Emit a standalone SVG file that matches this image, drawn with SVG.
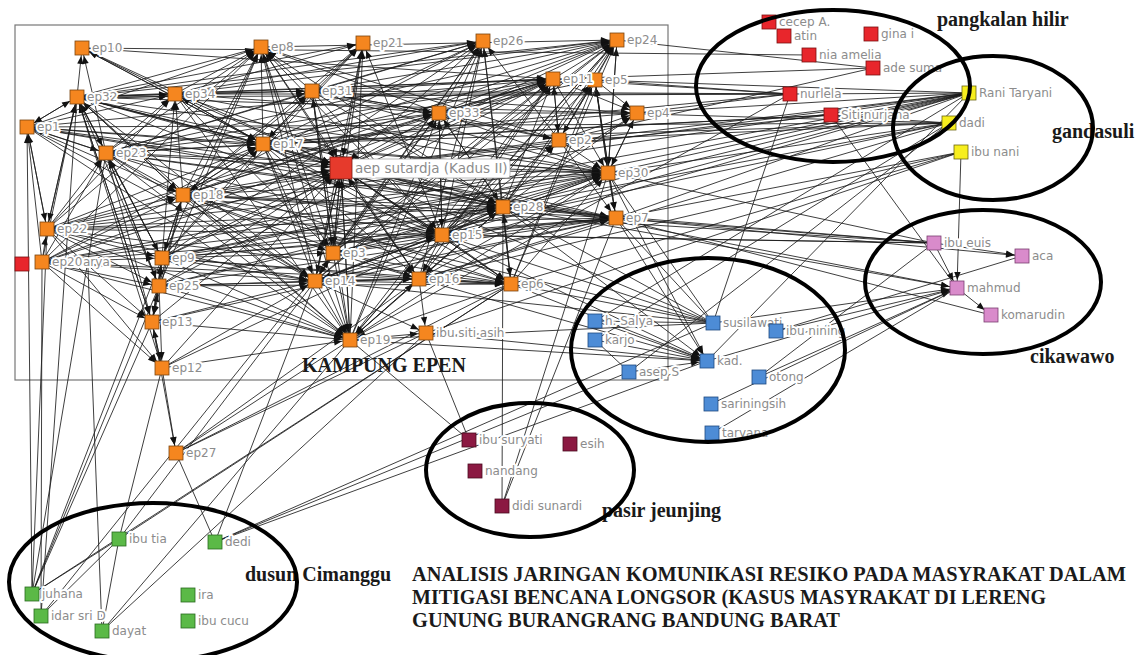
<svg xmlns="http://www.w3.org/2000/svg" width="1136" height="655" viewBox="0 0 1136 655">
<style>
.e path{fill:none;stroke:#1c1c1c;stroke-width:.85}
.ea{marker-end:url(#ma)}
.eb{marker-end:url(#mb)}
.l{font-family:"DejaVu Sans",sans-serif;font-size:12px;fill:#8c8c8c;stroke:#fff;stroke-width:4;stroke-linejoin:round;paint-order:stroke}
.o{fill:#f5861f;stroke:#7a4510;stroke-width:.8}
.r{fill:#e8262c;stroke:#7a1010;stroke-width:.8}
.y{fill:#f7ee1e;stroke:#6b6510;stroke-width:.8}
.p{fill:#d98bcb;stroke:#7a3f70;stroke-width:.8}
.b{fill:#4d8cd6;stroke:#1f4a80;stroke-width:.8}
.m{fill:#8b1942;stroke:#4a0a20;stroke-width:.8}
.g{fill:#5bb947;stroke:#2a6a20;stroke-width:.8}
.c{font-family:"Liberation Serif",serif;font-weight:bold;font-size:20px;fill:#1a1a1a}
.el{fill:none;stroke:#000;stroke-width:4}
</style>
<defs>
<marker id="ma" viewBox="0 0 20 10" refX="18" refY="5" markerWidth="20" markerHeight="10" markerUnits="userSpaceOnUse" orient="auto"><path d="M2 1.8L10 5L2 8.2z" fill="#111"/></marker>
<marker id="mb" viewBox="0 0 24 10" refX="22" refY="5" markerWidth="24" markerHeight="10" markerUnits="userSpaceOnUse" orient="auto"><path d="M2 1.8L10 5L2 8.2z" fill="#111"/></marker>
</defs>
<rect width="1136" height="655" fill="#fff"/>
<rect x="15" y="25" width="653" height="355" fill="none" stroke="#777" stroke-width="1.2"/>
<g id="connectors" class="e">
<g class="ea">
<path d="M77 97L261 47"/><path d="M175 94L261 47"/><path d="M106 153L261 47"/><path d="M263 144L261 47"/><path d="M183 195L261 47"/><path d="M27 127L261 47"/><path d="M162 258L261 47"/><path d="M333 253L261 47"/><path d="M315 281L261 47"/><path d="M350 340L261 47"/><path d="M312 91L261 47"/><path d="M442 235L261 47"/><path d="M503 207L261 47"/><path d="M47 229L261 47"/><path d="M42 262L261 47"/><path d="M159 286L261 47"/><path d="M419 279L261 47"/><path d="M439 113L261 47"/><path d="M559 140L261 47"/>
<path d="M175 94L483 41"/><path d="M312 91L483 41"/><path d="M263 144L483 41"/><path d="M439 113L483 41"/><path d="M333 253L483 41"/><path d="M315 281L483 41"/><path d="M442 235L483 41"/><path d="M503 207L483 41"/><path d="M350 340L483 41"/><path d="M183 195L483 41"/><path d="M419 279L483 41"/><path d="M511 284L483 41"/><path d="M77 97L483 41"/><path d="M559 140L483 41"/><path d="M162 258L483 41"/><path d="M106 153L483 41"/>
<path d="M553 79L617 40"/><path d="M439 113L617 40"/><path d="M312 91L617 40"/><path d="M263 144L617 40"/><path d="M442 235L617 40"/><path d="M503 207L617 40"/><path d="M559 140L617 40"/><path d="M315 281L617 40"/><path d="M175 94L617 40"/><path d="M333 253L617 40"/><path d="M419 279L617 40"/><path d="M350 340L617 40"/><path d="M511 284L617 40"/><path d="M77 97L617 40"/><path d="M106 153L617 40"/><path d="M608 173L617 40"/><path d="M595 80L617 40"/><path d="M183 195L617 40"/><path d="M261 47L617 40"/>
<path d="M175 94L363 43"/><path d="M263 144L363 43"/><path d="M333 253L363 43"/><path d="M315 281L363 43"/><path d="M350 340L363 43"/><path d="M183 195L363 43"/><path d="M442 235L363 43"/><path d="M312 91L363 43"/><path d="M77 97L363 43"/><path d="M162 258L363 43"/>
<path d="M77 97L82 48"/><path d="M175 94L82 48"/><path d="M263 144L82 48"/><path d="M106 153L82 48"/>
<path d="M77 97L553 79"/><path d="M175 94L553 79"/><path d="M312 91L553 79"/><path d="M439 113L553 79"/><path d="M263 144L553 79"/><path d="M106 153L553 79"/><path d="M183 195L553 79"/><path d="M27 127L553 79"/><path d="M442 235L553 79"/><path d="M503 207L553 79"/><path d="M315 281L553 79"/><path d="M333 253L553 79"/><path d="M419 279L553 79"/><path d="M350 340L553 79"/><path d="M162 258L553 79"/><path d="M47 229L553 79"/><path d="M42 262L553 79"/><path d="M82 48L553 79"/><path d="M159 286L553 79"/><path d="M559 140L553 79"/>
<path d="M559 140L595 80"/><path d="M608 173L595 80"/><path d="M616 218L595 80"/><path d="M439 113L595 80"/><path d="M442 235L595 80"/><path d="M503 207L595 80"/><path d="M511 284L595 80"/>
<path d="M439 113L637 113"/><path d="M559 140L637 113"/><path d="M503 207L637 113"/><path d="M442 235L637 113"/><path d="M312 91L637 113"/><path d="M553 79L637 113"/><path d="M263 144L637 113"/><path d="M608 173L637 113"/><path d="M595 80L637 113"/>
<path d="M312 91L559 140"/><path d="M439 113L559 140"/><path d="M553 79L559 140"/><path d="M595 80L559 140"/><path d="M503 207L559 140"/><path d="M442 235L559 140"/>
<path d="M77 97L608 173"/><path d="M175 94L608 173"/><path d="M106 153L608 173"/><path d="M263 144L608 173"/><path d="M183 195L608 173"/><path d="M27 127L608 173"/><path d="M47 229L608 173"/><path d="M42 262L608 173"/><path d="M162 258L608 173"/><path d="M333 253L608 173"/><path d="M315 281L608 173"/><path d="M442 235L608 173"/><path d="M503 207L608 173"/><path d="M595 80L608 173"/><path d="M553 79L608 173"/><path d="M617 40L608 173"/><path d="M559 140L608 173"/><path d="M419 279L608 173"/><path d="M511 284L608 173"/><path d="M350 340L608 173"/><path d="M159 286L608 173"/><path d="M637 113L608 173"/><path d="M439 113L608 173"/><path d="M312 91L608 173"/>
<path d="M608 173L616 218"/><path d="M503 207L616 218"/><path d="M442 235L616 218"/><path d="M419 279L616 218"/><path d="M315 281L616 218"/><path d="M183 195L616 218"/><path d="M106 153L616 218"/><path d="M77 97L616 218"/><path d="M162 258L616 218"/><path d="M159 286L616 218"/><path d="M42 262L616 218"/><path d="M47 229L616 218"/><path d="M333 253L616 218"/><path d="M595 80L616 218"/><path d="M559 140L616 218"/><path d="M152 322L616 218"/><path d="M27 127L616 218"/>
<path d="M263 144L503 207"/><path d="M183 195L503 207"/><path d="M106 153L503 207"/><path d="M333 253L503 207"/><path d="M315 281L503 207"/><path d="M442 235L503 207"/><path d="M439 113L503 207"/><path d="M162 258L503 207"/><path d="M159 286L503 207"/><path d="M77 97L503 207"/><path d="M511 284L503 207"/><path d="M419 279L503 207"/><path d="M42 262L503 207"/><path d="M47 229L503 207"/><path d="M27 127L503 207"/><path d="M312 91L503 207"/><path d="M175 94L503 207"/><path d="M162 368L503 207"/>
<path d="M175 94L312 91"/><path d="M77 97L312 91"/><path d="M263 144L312 91"/><path d="M106 153L312 91"/><path d="M183 195L312 91"/><path d="M439 113L312 91"/><path d="M333 253L312 91"/>
<path d="M312 91L439 113"/><path d="M263 144L439 113"/><path d="M315 281L439 113"/><path d="M333 253L439 113"/><path d="M183 195L439 113"/><path d="M442 235L439 113"/><path d="M503 207L439 113"/><path d="M350 340L439 113"/><path d="M175 94L439 113"/><path d="M106 153L439 113"/>
<path d="M77 97L175 94"/><path d="M78 99L175 96"/><path d="M106 153L175 94"/><path d="M263 144L175 94"/><path d="M183 195L175 94"/><path d="M162 258L175 94"/><path d="M27 127L175 94"/><path d="M47 229L175 94"/>
<path d="M27 127L77 97"/><path d="M106 153L77 97"/><path d="M47 229L77 97"/><path d="M42 262L77 97"/><path d="M183 195L77 97"/><path d="M162 258L77 97"/><path d="M159 286L77 97"/><path d="M152 322L77 97"/><path d="M162 368L77 97"/><path d="M263 144L77 97"/>
<path d="M27 127L106 153"/><path d="M77 97L106 153"/><path d="M47 229L106 153"/><path d="M42 262L106 153"/><path d="M162 258L106 153"/><path d="M159 286L106 153"/>
<path d="M77 97L263 144"/><path d="M175 94L263 144"/><path d="M106 153L263 144"/><path d="M183 195L263 144"/><path d="M27 127L263 144"/><path d="M162 258L263 144"/><path d="M312 91L263 144"/><path d="M82 48L263 144"/><path d="M47 229L263 144"/><path d="M42 262L263 144"/>
<path d="M106 153L183 195"/><path d="M77 97L183 195"/><path d="M47 229L183 195"/><path d="M42 262L183 195"/><path d="M162 258L183 195"/><path d="M159 286L183 195"/><path d="M263 144L183 195"/><path d="M27 127L183 195"/>
<path d="M77 97L27 127"/><path d="M47 229L27 127"/><path d="M42 262L27 127"/><path d="M106 153L27 127"/><path d="M32 594L27 127"/>
<path d="M42 262L47 229"/><path d="M77 97L47 229"/><path d="M27 127L47 229"/>
<path d="M183 195L162 258"/><path d="M106 153L162 258"/><path d="M47 229L162 258"/><path d="M42 262L162 258"/><path d="M159 286L162 258"/><path d="M152 322L162 258"/>
<path d="M42 262L159 286"/><path d="M162 258L159 286"/><path d="M152 322L159 286"/><path d="M47 229L159 286"/><path d="M106 153L159 286"/>
<path d="M42 262L152 322"/><path d="M159 286L152 322"/><path d="M162 368L152 322"/><path d="M47 229L152 322"/><path d="M183 195L152 322"/><path d="M162 258L152 322"/><path d="M77 97L152 322"/><path d="M106 153L152 322"/>
<path d="M152 322L162 368"/><path d="M42 262L162 368"/><path d="M159 286L162 368"/><path d="M47 229L162 368"/>
<path d="M263 144L333 253"/><path d="M183 195L333 253"/><path d="M341 168L333 253"/><path d="M312 91L333 253"/><path d="M315 281L333 253"/><path d="M162 258L333 253"/><path d="M175 94L333 253"/>
<path d="M183 195L315 281"/><path d="M162 258L315 281"/><path d="M159 286L315 281"/><path d="M106 153L315 281"/><path d="M263 144L315 281"/><path d="M341 168L315 281"/><path d="M333 253L315 281"/><path d="M419 279L315 281"/><path d="M442 235L315 281"/><path d="M152 322L315 281"/><path d="M42 262L315 281"/><path d="M47 229L315 281"/><path d="M77 97L315 281"/><path d="M162 368L315 281"/><path d="M27 127L315 281"/>
<path d="M315 281L419 279"/><path d="M333 253L419 279"/><path d="M341 168L419 279"/><path d="M442 235L419 279"/><path d="M183 195L419 279"/><path d="M263 144L419 279"/><path d="M159 286L419 279"/><path d="M350 340L419 279"/><path d="M162 258L419 279"/><path d="M503 207L419 279"/>
<path d="M419 279L511 284"/><path d="M442 235L511 284"/><path d="M503 207L511 284"/><path d="M341 168L511 284"/><path d="M315 281L511 284"/><path d="M333 253L511 284"/><path d="M263 144L511 284"/><path d="M183 195L511 284"/><path d="M162 258L511 284"/><path d="M159 286L511 284"/><path d="M42 262L511 284"/><path d="M47 229L511 284"/><path d="M106 153L511 284"/>
<path d="M341 168L442 235"/><path d="M333 253L442 235"/><path d="M263 144L442 235"/><path d="M183 195L442 235"/><path d="M315 281L442 235"/><path d="M439 113L442 235"/><path d="M312 91L442 235"/><path d="M162 258L442 235"/><path d="M106 153L442 235"/><path d="M77 97L442 235"/>
<path d="M315 281L350 340"/><path d="M333 253L350 340"/><path d="M341 168L350 340"/><path d="M183 195L350 340"/><path d="M162 258L350 340"/><path d="M159 286L350 340"/><path d="M152 322L350 340"/><path d="M162 368L350 340"/><path d="M47 229L350 340"/><path d="M42 262L350 340"/><path d="M263 144L350 340"/><path d="M419 279L350 340"/><path d="M442 235L350 340"/><path d="M503 207L350 340"/><path d="M511 284L350 340"/><path d="M106 153L350 340"/><path d="M77 97L350 340"/><path d="M27 127L350 340"/><path d="M175 94L350 340"/><path d="M312 91L350 340"/>
<path d="M350 340L426 333"/><path d="M315 281L426 333"/><path d="M419 279L426 333"/>
<path d="M162 368L176 453"/><path d="M152 322L176 453"/>
<path d="M595 321L707 361"/><path d="M595 340L707 361"/><path d="M629 372L707 361"/><path d="M419 279L707 361"/><path d="M608 173L707 361"/><path d="M503 207L707 361"/><path d="M616 218L707 361"/><path d="M442 235L707 361"/><path d="M511 284L707 361"/><path d="M350 340L707 361"/><path d="M426 333L707 361"/>
<path d="M934 243L957 288"/><path d="M341 168L957 288"/><path d="M503 207L957 288"/><path d="M707 361L957 288"/><path d="M759 377L957 288"/><path d="M776 331L957 288"/><path d="M713 323L957 288"/><path d="M961 152L957 288"/>
<path d="M616 218L1022 256"/><path d="M934 243L1022 256"/>
<path d="M957 288L991 315"/>
</g>
<g class="eb">
<path d="M77 97L341 168"/><path d="M175 94L341 168"/><path d="M106 153L341 168"/><path d="M263 144L341 168"/><path d="M183 195L341 168"/><path d="M27 127L341 168"/><path d="M162 258L341 168"/><path d="M159 286L341 168"/><path d="M47 229L341 168"/><path d="M42 262L341 168"/><path d="M333 253L341 168"/><path d="M315 281L341 168"/><path d="M442 235L341 168"/><path d="M350 340L341 168"/><path d="M312 91L341 168"/><path d="M439 113L341 168"/><path d="M261 47L341 168"/><path d="M483 41L341 168"/><path d="M363 43L341 168"/><path d="M553 79L341 168"/><path d="M559 140L341 168"/><path d="M608 173L341 168"/><path d="M503 207L341 168"/><path d="M616 218L341 168"/><path d="M419 279L341 168"/><path d="M511 284L341 168"/><path d="M152 322L341 168"/><path d="M162 368L341 168"/><path d="M82 48L341 168"/><path d="M617 40L341 168"/>
</g>
<path d="M617 40L873 68"/><path d="M553 79L873 68"/><path d="M559 140L873 68"/><path d="M82 48L809 55"/>
<path d="M77 97L790 94"/><path d="M175 94L790 94"/><path d="M312 91L790 94"/><path d="M553 79L790 94"/><path d="M595 80L790 94"/><path d="M637 113L790 94"/><path d="M263 144L790 94"/>
<path d="M790 94L969 93"/><path d="M790 94L713 323"/><path d="M790 94L350 340"/>
<path d="M106 153L831 115"/><path d="M341 168L831 115"/><path d="M831 115L957 288"/><path d="M263 144L831 115"/>
<path d="M42 262L969 93"/><path d="M47 229L969 93"/><path d="M183 195L969 93"/><path d="M162 258L969 93"/><path d="M341 168L969 93"/><path d="M442 235L969 93"/><path d="M503 207L969 93"/><path d="M608 173L969 93"/><path d="M315 281L969 93"/><path d="M616 218L969 93"/><path d="M637 113L969 93"/><path d="M595 80L969 93"/>
<path d="M27 127L949 123"/><path d="M77 97L949 123"/><path d="M263 144L949 123"/><path d="M333 253L949 123"/><path d="M419 279L949 123"/><path d="M503 207L949 123"/><path d="M608 173L949 123"/><path d="M559 140L949 123"/><path d="M831 115L949 123"/>
<path d="M511 284L961 152"/><path d="M419 279L961 152"/><path d="M426 333L961 152"/><path d="M616 218L961 152"/>
<path d="M503 207L934 243"/><path d="M442 235L934 243"/><path d="M608 173L934 243"/><path d="M616 218L934 243"/><path d="M183 195L934 243"/><path d="M47 229L934 243"/>
<path d="M616 218L991 315"/>
<path d="M350 340L713 323"/><path d="M315 281L713 323"/><path d="M503 207L713 323"/><path d="M511 284L713 323"/><path d="M442 235L713 323"/><path d="M608 173L713 323"/><path d="M616 218L713 323"/><path d="M341 168L713 323"/><path d="M183 195L713 323"/>
<path d="M711 404L957 288"/><path d="M712 433L957 288"/><path d="M759 377L934 243"/><path d="M776 331L1022 256"/>
<path d="M595 321L713 323"/><path d="M595 340L629 372"/>
<path d="M215 542L707 361"/><path d="M215 542L713 323"/><path d="M215 542L629 372"/>
<path d="M969 93L707 361"/><path d="M949 123L595 340"/><path d="M969 93L595 321"/><path d="M949 123L629 372"/>
<path d="M469 440L426 333"/><path d="M469 440L350 340"/><path d="M503 207L502 506"/><path d="M608 173L502 506"/><path d="M616 218L502 506"/>
<path d="M32 594L162 258"/><path d="M32 594L159 286"/><path d="M32 594L152 322"/><path d="M32 594L106 153"/><path d="M32 594L511 284"/><path d="M32 594L119 539"/><path d="M32 594L47 229"/>
<path d="M41 616L119 539"/><path d="M41 616L42 262"/><path d="M41 616L77 97"/><path d="M41 616L333 253"/>
<path d="M102 631L88 268"/><path d="M102 631L350 340"/><path d="M102 631L426 333"/><path d="M102 631L119 539"/>
<path d="M119 539L162 368"/><path d="M119 539L315 281"/><path d="M119 539L511 284"/>
<path d="M215 542L176 453"/><path d="M215 542L315 281"/>
<path d="M176 453L426 333"/><path d="M176 453L511 284"/><path d="M176 453L419 279"/><path d="M176 453L350 340"/>
</g>
<g id="nodes">
<g id="ep10"><rect class="o" x="75" y="41" width="14" height="14"/><text class="l" x="92" y="52">ep10</text></g>
<g id="ep8"><rect class="o" x="254" y="40" width="14" height="14"/><text class="l" x="271" y="51">ep8</text></g>
<g id="ep21"><rect class="o" x="356" y="36" width="14" height="14"/><text class="l" x="373" y="47">ep21</text></g>
<g id="ep26"><rect class="o" x="476" y="34" width="14" height="14"/><text class="l" x="493" y="45">ep26</text></g>
<g id="ep24"><rect class="o" x="610" y="33" width="14" height="14"/><text class="l" x="627" y="44">ep24</text></g>
<g id="ep5"><rect class="o" x="588" y="73" width="14" height="14"/><text class="l" x="605" y="84">ep5</text></g>
<g id="ep11"><rect class="o" x="546" y="72" width="14" height="14"/><text class="l" x="563" y="83">ep11</text></g>
<g id="ep32"><rect class="o" x="70" y="90" width="14" height="14"/><text class="l" x="87" y="101">ep32</text></g>
<g id="ep34"><rect class="o" x="168" y="87" width="14" height="14"/><text class="l" x="185" y="98">ep34</text></g>
<g id="ep31"><rect class="o" x="305" y="84" width="14" height="14"/><text class="l" x="322" y="95">ep31</text></g>
<g id="ep33"><rect class="o" x="432" y="106" width="14" height="14"/><text class="l" x="449" y="117">ep33</text></g>
<g id="ep4"><rect class="o" x="630" y="106" width="14" height="14"/><text class="l" x="647" y="117">ep4</text></g>
<g id="ep1"><rect class="o" x="20" y="120" width="14" height="14"/><text class="l" x="37" y="131">ep1</text></g>
<g id="ep23"><rect class="o" x="99" y="146" width="14" height="14"/><text class="l" x="116" y="157">ep23</text></g>
<g id="ep17"><rect class="o" x="256" y="137" width="14" height="14"/><text class="l" x="273" y="148">ep17</text></g>
<g id="ep2"><rect class="o" x="552" y="133" width="14" height="14"/><text class="l" x="569" y="144">ep2</text></g>
<g id="ep30"><rect class="o" x="601" y="166" width="14" height="14"/><text class="l" x="618" y="177">ep30</text></g>
<g id="ep18"><rect class="o" x="176" y="188" width="14" height="14"/><text class="l" x="193" y="199">ep18</text></g>
<g id="ep28"><rect class="o" x="496" y="200" width="14" height="14"/><text class="l" x="513" y="211">ep28</text></g>
<g id="ep7"><rect class="o" x="609" y="211" width="14" height="14"/><text class="l" x="626" y="222">ep7</text></g>
<g id="ep22"><rect class="o" x="40" y="222" width="14" height="14"/><text class="l" x="57" y="233">ep22</text></g>
<g id="ep15"><rect class="o" x="435" y="228" width="14" height="14"/><text class="l" x="452" y="239">ep15</text></g>
<g id="ep3"><rect class="o" x="326" y="246" width="14" height="14"/><text class="l" x="343" y="257">ep3</text></g>
<g id="ep9"><rect class="o" x="155" y="251" width="14" height="14"/><text class="l" x="172" y="262">ep9</text></g>
<g id="arya"><rect class="r" x="15" y="257" width="14" height="14"/><text class="l" x="83" y="266">arya</text></g>
<g id="ep20"><rect class="o" x="35" y="255" width="14" height="14"/><text class="l" x="52" y="266">ep20</text></g>
<g id="ep14"><rect class="o" x="308" y="274" width="14" height="14"/><text class="l" x="325" y="285">ep14</text></g>
<g id="ep16"><rect class="o" x="412" y="272" width="14" height="14"/><text class="l" x="429" y="283">ep16</text></g>
<g id="ep6"><rect class="o" x="504" y="277" width="14" height="14"/><text class="l" x="521" y="288">ep6</text></g>
<g id="ep25"><rect class="o" x="152" y="279" width="14" height="14"/><text class="l" x="169" y="290">ep25</text></g>
<g id="ep13"><rect class="o" x="145" y="315" width="14" height="14"/><text class="l" x="162" y="326">ep13</text></g>
<g id="ibu-siti-asih"><rect class="o" x="419" y="326" width="14" height="14"/><text class="l" x="436" y="337">ibu siti asih</text></g>
<g id="ep19"><rect class="o" x="343" y="333" width="14" height="14"/><text class="l" x="360" y="344">ep19</text></g>
<g id="ep12"><rect class="o" x="155" y="361" width="14" height="14"/><text class="l" x="172" y="372">ep12</text></g>
<g id="ep27"><rect class="o" x="169" y="446" width="14" height="14"/><text class="l" x="186" y="457">ep27</text></g>
<g id="aep"><rect x="351" y="159" width="159" height="19" rx="3" fill="#fff" stroke="#aaa" stroke-width=".8"/><rect x="330" y="157" width="22" height="22" fill="#e63a2c" stroke="#7a1a10" stroke-width=".8"/><text class="l" x="355" y="173" style="font-size:13.5px">aep sutardja (Kadus II)</text></g>
<g id="cecep"><rect class="r" x="762" y="15" width="14" height="14"/><text class="l" x="779" y="26">cecep A.</text></g>
<g id="atin"><rect class="r" x="777" y="29" width="14" height="14"/><text class="l" x="794" y="40">atin</text></g>
<g id="gina"><rect class="r" x="864" y="27" width="14" height="14"/><text class="l" x="881" y="38">gina i</text></g>
<g id="nia"><rect class="r" x="802" y="48" width="14" height="14"/><text class="l" x="819" y="59">nia amelia</text></g>
<g id="ade"><rect class="r" x="866" y="61" width="14" height="14"/><text class="l" x="883" y="72">ade suma</text></g>
<g id="nurlela"><rect class="r" x="783" y="87" width="14" height="14"/><text class="l" x="800" y="98">nurlela</text></g>
<g id="siti"><rect class="r" x="824" y="108" width="14" height="14"/><text class="l" x="841" y="119">Siti nurjana</text></g>
<g id="rani"><rect class="y" x="962" y="86" width="14" height="14"/><text class="l" x="979" y="97">Rani Taryani</text></g>
<g id="dadi"><rect class="y" x="942" y="116" width="14" height="14"/><text class="l" x="959" y="127">dadi</text></g>
<g id="nani"><rect class="y" x="954" y="145" width="14" height="14"/><text class="l" x="971" y="156">ibu nani</text></g>
<g id="euis"><rect class="p" x="927" y="236" width="14" height="14"/><text class="l" x="944" y="247">ibu euis</text></g>
<g id="aca"><rect class="p" x="1015" y="249" width="14" height="14"/><text class="l" x="1032" y="260">aca</text></g>
<g id="mahmud"><rect class="p" x="950" y="281" width="14" height="14"/><text class="l" x="967" y="292">mahmud</text></g>
<g id="komarudin"><rect class="p" x="984" y="308" width="14" height="14"/><text class="l" x="1001" y="319">komarudin</text></g>
<g id="salya"><rect class="b" x="588" y="314" width="14" height="14"/><text class="l" x="605" y="325">h. Salya</text></g>
<g id="karjo"><rect class="b" x="588" y="333" width="14" height="14"/><text class="l" x="605" y="344">karjo</text></g>
<g id="asep"><rect class="b" x="622" y="365" width="14" height="14"/><text class="l" x="639" y="376">asep S</text></g>
<g id="kad"><rect class="b" x="700" y="354" width="14" height="14"/><text class="l" x="717" y="365">kad.</text></g>
<g id="susilawati"><rect class="b" x="706" y="316" width="14" height="14"/><text class="l" x="723" y="327">susilawati</text></g>
<g id="nining"><rect class="b" x="769" y="324" width="14" height="14"/><text class="l" x="786" y="335">ibu nining</text></g>
<g id="otong"><rect class="b" x="752" y="370" width="14" height="14"/><text class="l" x="769" y="381">otong</text></g>
<g id="sariningsih"><rect class="b" x="704" y="397" width="14" height="14"/><text class="l" x="721" y="408">sariningsih</text></g>
<g id="taryana"><rect class="b" x="705" y="426" width="14" height="14"/><text class="l" x="722" y="437">taryana</text></g>
<g id="suryati"><rect class="m" x="462" y="433" width="14" height="14"/><text class="l" x="479" y="444">ibu suryati</text></g>
<g id="esih"><rect class="m" x="563" y="437" width="14" height="14"/><text class="l" x="580" y="448">esih</text></g>
<g id="nandang"><rect class="m" x="468" y="464" width="14" height="14"/><text class="l" x="485" y="475">nandang</text></g>
<g id="didi"><rect class="m" x="495" y="499" width="14" height="14"/><text class="l" x="512" y="510">didi sunardi</text></g>
<g id="tia"><rect class="g" x="112" y="532" width="14" height="14"/><text class="l" x="129" y="543">ibu tia</text></g>
<g id="dedi"><rect class="g" x="208" y="535" width="14" height="14"/><text class="l" x="225" y="546">dedi</text></g>
<g id="juhana"><rect class="g" x="25" y="587" width="14" height="14"/><text class="l" x="42" y="598">juhana</text></g>
<g id="idar"><rect class="g" x="34" y="609" width="14" height="14"/><text class="l" x="51" y="620">idar sri D</text></g>
<g id="dayat"><rect class="g" x="95" y="624" width="14" height="14"/><text class="l" x="112" y="635">dayat</text></g>
<g id="ira"><rect class="g" x="181" y="588" width="14" height="14"/><text class="l" x="198" y="599">ira</text></g>
<g id="cucu"><rect class="g" x="181" y="614" width="14" height="14"/><text class="l" x="198" y="625">ibu cucu</text></g>
</g>
<g id="labels">
<text class="c" x="302" y="372">KAMPUNG EPEN</text>
<text class="c" x="937" y="26">pangkalan hilir</text>
<text class="c" x="1052" y="138">gandasuli</text>
<text class="c" x="1030" y="363">cikawawo</text>
<text class="c" x="602" y="517">pasir jeunjing</text>
<text class="c" x="245" y="581">dusun Cimanggu</text>
</g>
<g id="clusters">
<ellipse class="el" cx="833" cy="86" rx="137" ry="76"/>
<ellipse class="el" cx="993" cy="128" rx="100" ry="72"/>
<ellipse class="el" cx="983" cy="282" rx="118" ry="72"/>
<ellipse class="el" cx="708" cy="350" rx="137" ry="92"/>
<ellipse class="el" cx="530" cy="470" rx="104" ry="67"/>
<ellipse class="el" cx="153" cy="582" rx="144" ry="79"/>
</g>
<g id="title" class="c" style="font-size:20px">
<text x="412" y="581" textLength="714" lengthAdjust="spacingAndGlyphs">ANALISIS JARINGAN KOMUNIKASI RESIKO PADA MASYRAKAT DALAM</text>
<text x="412" y="604" textLength="634" lengthAdjust="spacingAndGlyphs">MITIGASI BENCANA LONGSOR (KASUS MASYRAKAT DI LERENG</text>
<text x="412" y="627" textLength="428" lengthAdjust="spacingAndGlyphs">GUNUNG BURANGRANG BANDUNG BARAT</text>
</g>
</svg>
